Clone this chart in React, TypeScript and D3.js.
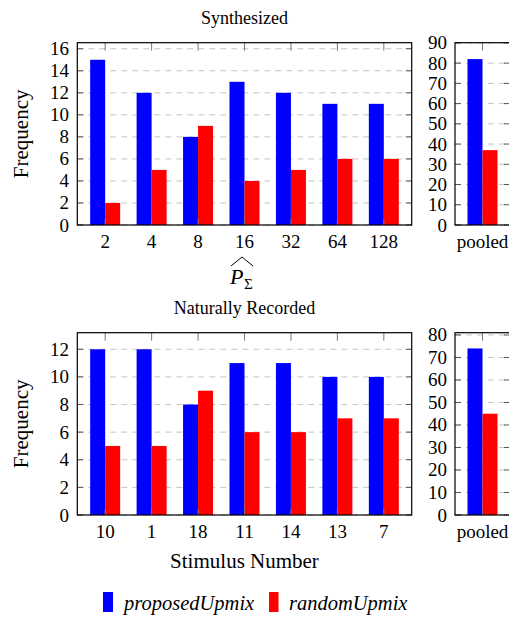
import React from 'react';
import * as d3 from 'd3';

// data
const synthCats = ['2', '4', '8', '16', '32', '64', '128'];
const synthProposed = [15, 12, 8, 13, 12, 11, 11];
const synthRandom = [2, 5, 9, 4, 5, 6, 6];
const synthPooled = [82, 37];

const natCats = ['10', '1', '18', '11', '14', '13', '7'];
const natProposed = [12, 12, 8, 11, 11, 10, 10];
const natRandom = [5, 5, 9, 6, 6, 7, 7];
const natPooled = [74, 45];

const synthTicks = [0, 2, 4, 6, 8, 10, 12, 14, 16];
const natTicks = [0, 2, 4, 6, 8, 10, 12];
const synthPooledTicks = [0, 10, 20, 30, 40, 50, 60, 70, 80, 90];
const natPooledTicks = [0, 10, 20, 30, 40, 50, 60, 70, 80];

const seriesNames = ['proposedUpmix', 'randomUpmix'];
const colors = ['#0000ff', '#ff0000'];

const FONT = 'Liberation Serif, DejaVu Serif, serif';
const BAR_W = 15;

type PanelProps = {
  x0: number;
  x1: number;
  y0: number;
  y1: number;
  cats: string[];
  a: number[];
  b: number[];
  ymax: number;
  ticks: number[];
  labelX: number;
  padding: number;
};

const Panel = ({ x0, x1, y0, y1, cats, a, b, ymax, ticks, labelX, padding }: PanelProps) => {
  const x = d3.scalePoint<string>().domain(cats).range([x0, x1]).padding(padding);
  const y = d3.scaleLinear().domain([0, ymax]).range([y1, y0]);

  return (
    <g>
      {/* grid */}
      {ticks.map(t => (
        <line key={'g' + t} x1={x0} x2={x1} y1={y(t)} y2={y(t)}
          stroke="#c4c4c4" strokeWidth={1} strokeDasharray="6,5" />
      ))}
      {/* bars */}
      {cats.map((c, i) => (
        <g key={c}>
          <rect x={x(c)! - BAR_W} y={y(a[i])} width={BAR_W} height={y1 - y(a[i])} fill={colors[0]} />
          <rect x={x(c)!} y={y(b[i])} width={BAR_W} height={y1 - y(b[i])} fill={colors[1]} />
        </g>
      ))}
      {/* ticks */}
      {ticks.map(t => (
        <g key={'t' + t}>
          <line x1={x0} x2={x0 + 6} y1={y(t)} y2={y(t)} stroke="#555" />
          <line x1={x1} x2={x1 - 6} y1={y(t)} y2={y(t)} stroke="#555" />
          <text x={labelX} y={y(t)} textAnchor="end" dominantBaseline="central"
            fontFamily={FONT} fontSize={19}>{t}</text>
        </g>
      ))}
      {cats.map(c => (
        <g key={'x' + c}>
          <line x1={x(c)} x2={x(c)} y1={y0} y2={y0 + 8} stroke="#777" />
          <line x1={x(c)} x2={x(c)} y1={y1} y2={y1 - 6} stroke="#777" />
          <text x={x(c)} y={y1 + 22.5} textAnchor="middle" fontFamily={FONT} fontSize={19}>{c}</text>
        </g>
      ))}
      <rect x={x0} y={y0} width={x1 - x0} height={y1 - y0} fill="none" stroke="#000" strokeWidth={1.2} />
    </g>
  );
};

const App = () => {
  const W = 509;
  const H = 619;
  const mainL = 77.3;
  const mainR = 411.7;
  const poolL = 455;
  const poolR = 510;
  const cx = (mainL + mainR) / 2;

  return (
    <svg width={W} height={H} style={{ position: 'absolute', left: 0, top: 0, background: '#fff' }}>
      <text x={cx} y={23.5} textAnchor="middle" fontFamily={FONT} fontSize={18}>Synthesized</text>
      <Panel x0={mainL} x1={mainR} y0={42.7} y1={225} cats={synthCats} a={synthProposed} b={synthRandom}
        ymax={16.55} ticks={synthTicks} labelX={69} padding={0.6} />
      <Panel x0={poolL} x1={poolR} y0={42.7} y1={225} cats={['pooled']} a={[synthPooled[0]]} b={[synthPooled[1]]}
        ymax={90.1} ticks={synthPooledTicks} labelX={447} padding={0.5} />
      <text transform={`translate(21,${(42.7 + 225) / 2}) rotate(-90)`} textAnchor="middle"
        dominantBaseline="central" fontFamily={FONT} fontSize={21}>Frequency</text>
      {/* P-hat with subscript Sigma */}
      <path d="M231,266 L242,257 L253,266" fill="none" stroke="#000" strokeWidth={1} />
      <text x={230} y={284} fontFamily={FONT} fontSize={22} fontStyle="italic">P</text>
      <text x={244} y={289} fontFamily={FONT} fontSize={15}>Σ</text>

      <text x={cx} y={313.5} textAnchor="middle" fontFamily={FONT} fontSize={18}>Naturally Recorded</text>
      <Panel x0={mainL} x1={mainR} y0={332.7} y1={515} cats={natCats} a={natProposed} b={natRandom}
        ymax={13.2} ticks={natTicks} labelX={69} padding={0.6} />
      <Panel x0={poolL} x1={poolR} y0={332.7} y1={515} cats={['pooled']} a={[natPooled[0]]} b={[natPooled[1]]}
        ymax={81} ticks={natPooledTicks} labelX={447} padding={0.5} />
      <text transform={`translate(21,${(332.7 + 515) / 2}) rotate(-90)`} textAnchor="middle"
        dominantBaseline="central" fontFamily={FONT} fontSize={21}>Frequency</text>
      <text x={cx} y={568} textAnchor="middle" fontFamily={FONT} fontSize={21}>Stimulus Number</text>

      {/* legend */}
      <rect x={103} y={592} width={10} height={20} fill={colors[0]} />
      <text x={124} y={610} fontFamily={FONT} fontSize={20.5} fontStyle="italic">{seriesNames[0]}</text>
      <rect x={269} y={592} width={9.5} height={20} fill={colors[1]} />
      <text x={289} y={610} fontFamily={FONT} fontSize={20.5} fontStyle="italic">{seriesNames[1]}</text>
    </svg>
  );
};

export default App;
